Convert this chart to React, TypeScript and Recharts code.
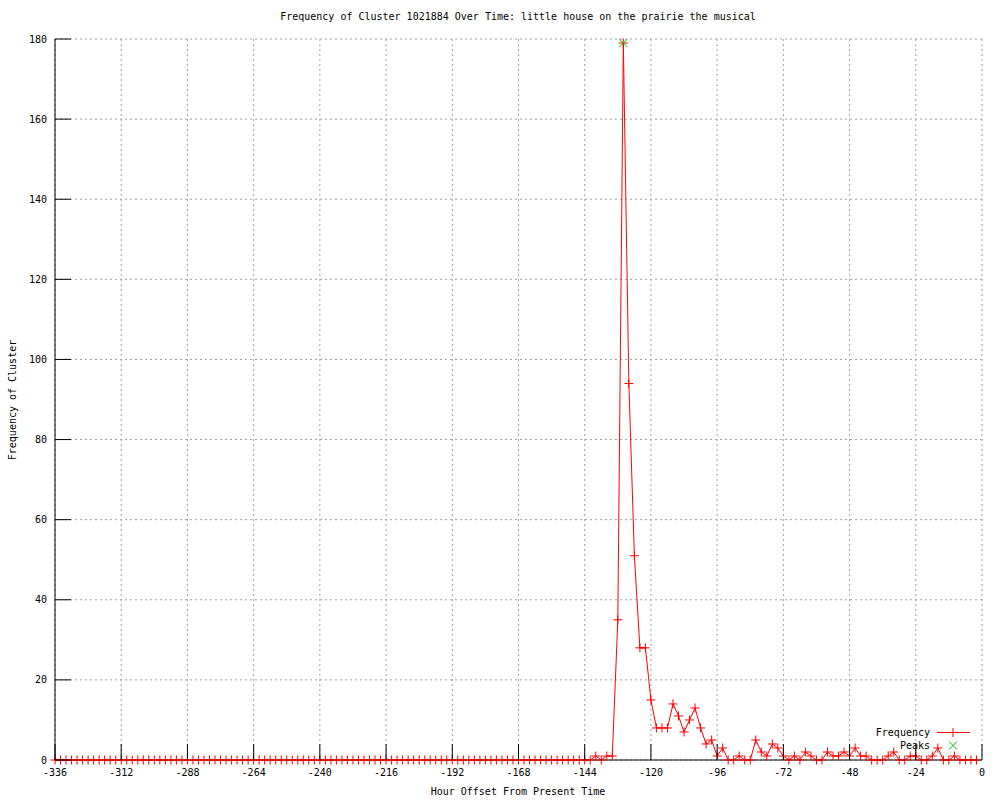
// Frequency of a cluster over time, gnuplot look-alike drawn with Recharts

import React from 'react';
import { ComposedChart, Line, XAxis, YAxis, CartesianGrid, Legend } from 'recharts';

// hour offsets of each sample (2 h steps)
const hours = [
    -336, -334, -332, -330, -328, -326, -324, -322, -320, -318, -316, -314,
    -312, -310, -308, -306, -304, -302, -300, -298, -296, -294, -292, -290,
    -288, -286, -284, -282, -280, -278, -276, -274, -272, -270, -268, -266,
    -264, -262, -260, -258, -256, -254, -252, -250, -248, -246, -244, -242,
    -240, -238, -236, -234, -232, -230, -228, -226, -224, -222, -220, -218,
    -216, -214, -212, -210, -208, -206, -204, -202, -200, -198, -196, -194,
    -192, -190, -188, -186, -184, -182, -180, -178, -176, -174, -172, -170,
    -168, -166, -164, -162, -160, -158, -156, -154, -152, -150, -148, -146,
    -144, -142, -140, -138, -136, -134, -132, -130, -128, -126, -124, -122,
    -120, -118, -116, -114, -112, -110, -108, -106, -104, -102, -100, -98,
    -96, -94, -92, -90, -88, -86, -84, -82, -80, -78, -76, -74,
    -72, -70, -68, -66, -64, -62, -60, -58, -56, -54, -52, -50,
    -48, -46, -44, -42, -40, -38, -36, -34, -32, -30, -28, -26,
    -24, -22, -20, -18, -16, -14, -12, -10, -8, -6, -4, -2
];

const frequency = [
    0, 0, 0, 0, 0, 0, 0, 0, 0, 0, 0, 0,
    0, 0, 0, 0, 0, 0, 0, 0, 0, 0, 0, 0,
    0, 0, 0, 0, 0, 0, 0, 0, 0, 0, 0, 0,
    0, 0, 0, 0, 0, 0, 0, 0, 0, 0, 0, 0,
    0, 0, 0, 0, 0, 0, 0, 0, 0, 0, 0, 0,
    0, 0, 0, 0, 0, 0, 0, 0, 0, 0, 0, 0,
    0, 0, 0, 0, 0, 0, 0, 0, 0, 0, 0, 0,
    0, 0, 0, 0, 0, 0, 0, 0, 0, 0, 0, 0,
    0, 0, 1, 0, 1, 1, 35, 179, 94, 51, 28, 28,
    15, 8, 8, 8, 14, 11, 7, 10, 13, 8, 4, 5,
    1, 3, 0, 0, 1, 0, 0, 5, 2, 1, 4, 3,
    1, 0, 1, 0, 2, 1, 0, 0, 2, 1, 1, 2,
    1, 3, 1, 1, 0, 0, 0, 1, 2, 0, 0, 1,
    1, 0, 0, 1, 3, 0, 0, 1, 0, 0, 0, 0
];

const peakHours = [-130];
const peakValues = [179];

const xTicks = [-336, -312, -288, -264, -240, -216, -192, -168, -144, -120, -96, -72, -48, -24, 0];
const yTicks = [0, 20, 40, 60, 80, 100, 120, 140, 160, 180];

const data = hours.map((h, i) => {
    const p = peakHours.indexOf(h);
    return { hour: h, frequency: frequency[i], peak: p >= 0 ? peakValues[p] : null };
});

const FONT = '"DejaVu Sans Mono", "Liberation Mono", monospace';
const TICK_LEN = 16;

const BottomTick = ({ x, y, payload }: any) => (
    <g>
        <line x1={x} x2={x} y1={y} y2={y - TICK_LEN} stroke="#000" />
        <text x={x} y={y + 16} textAnchor="middle" fontSize={10} fontFamily={FONT} fill="#000">
            {payload.value}
        </text>
    </g>
);

const TopTick = ({ x, y }: any) => (
    <line x1={x} x2={x} y1={y} y2={y + TICK_LEN} stroke="#000" />
);

const LeftTick = ({ x, y, payload }: any) => (
    <g>
        <line x1={x} x2={x + TICK_LEN} y1={y} y2={y} stroke="#000" />
        <text x={x - 8} y={y + 3.5} textAnchor="end" fontSize={10} fontFamily={FONT} fill="#000">
            {payload.value}
        </text>
    </g>
);

const RightTick = ({ x, y }: any) => (
    <line x1={x} x2={x - TICK_LEN} y1={y} y2={y} stroke="#000" />
);

const PlusDot = ({ cx, cy, index }: any) => (
    <path key={`f${index}`} d={`M${cx - 4.5},${cy}h9M${cx},${cy - 4.5}v9`} stroke="#ff0000" strokeWidth={1} fill="none" />
);

const CrossDot = ({ cx, cy, index, value }: any) => {
    if (value == null || cy == null) return <g key={`p${index}`} />;
    return (
        <path key={`p${index}`} d={`M${cx - 4},${cy - 4}l8,8M${cx - 4},${cy + 4}l8,-8`} stroke="#00c000" strokeWidth={1} fill="none" />
    );
};

const renderLegend = ({ payload }: any) => (
    <div style={{ fontFamily: FONT, fontSize: 10, color: '#000' }}>
        {(payload || []).map((entry: any) => (
            <div key={entry.value} style={{ display: 'flex', alignItems: 'center', height: 13 }}>
                <span style={{ width: 80, textAlign: 'right', lineHeight: '13px' }}>{entry.value}</span>
                <svg width={42} height={13}>
                    {entry.dataKey === 'peak' ? (
                        <path d="M19,2.5l8,8M19,10.5l8,-8" stroke="#00c000" fill="none" />
                    ) : (
                        <g>
                            <line x1={7} x2={40} y1={6.5} y2={6.5} stroke="#ff0000" />
                            <path d="M18.5,6.5h9M23,2v9" stroke="#ff0000" fill="none" />
                        </g>
                    )}
                </svg>
            </div>
        ))}
    </div>
);

const App: React.FC = () => {
    return (
        <div style={{ position: 'absolute', left: 0, top: 0, width: 1000, height: 800, background: '#fff' }}>
            <div style={{ position: 'absolute', left: 0, top: 11, width: 1036, textAlign: 'center', fontFamily: FONT, fontSize: 10, color: '#000' }}>
                Frequency of Cluster 1021884 Over Time: little house on the prairie the musical
            </div>
            <div style={{ position: 'absolute', left: 0, top: 786, width: 1036, textAlign: 'center', fontFamily: FONT, fontSize: 10, color: '#000' }}>
                Hour Offset From Present Time
            </div>
            <div style={{ position: 'absolute', left: 13, top: 400, width: 0, height: 0 }}>
                <div style={{ position: 'absolute', left: -100, top: -7, width: 200, textAlign: 'center', transform: 'rotate(-90deg)', fontFamily: FONT, fontSize: 10, color: '#000', lineHeight: '14px' }}>
                    Frequency of Cluster
                </div>
            </div>
            <ComposedChart width={1000} height={800} data={data} margin={{ top: 39, right: 18, bottom: 0, left: 0 }}>
                <CartesianGrid stroke="#a0a0a0" strokeDasharray="2 3" />
                <XAxis
                    dataKey="hour"
                    type="number"
                    domain={[-336, 0]}
                    ticks={xTicks}
                    height={40}
                    tickSize={0}
                    tickMargin={0}
                    tickLine={false}
                    axisLine={{ stroke: '#000' }}
                    tick={<BottomTick />}
                    interval={0}
                />
                <XAxis
                    xAxisId="top"
                    orientation="top"
                    dataKey="hour"
                    type="number"
                    domain={[-336, 0]}
                    ticks={xTicks}
                    height={0}
                    tickSize={0}
                    tickMargin={0}
                    tickLine={false}
                    axisLine={{ stroke: '#000' }}
                    tick={<TopTick />}
                    interval={0}
                />
                <YAxis
                    type="number"
                    domain={[0, 180]}
                    ticks={yTicks}
                    width={55}
                    tickSize={0}
                    tickMargin={0}
                    tickLine={false}
                    axisLine={{ stroke: '#000' }}
                    tick={<LeftTick />}
                    interval={0}
                />
                <YAxis
                    yAxisId="right"
                    orientation="right"
                    type="number"
                    domain={[0, 180]}
                    ticks={yTicks}
                    width={0}
                    tickSize={0}
                    tickMargin={0}
                    tickLine={false}
                    axisLine={{ stroke: '#000' }}
                    tick={<RightTick />}
                    interval={0}
                />
                <Line
                    name="Frequency"
                    dataKey="frequency"
                    stroke="#ff0000"
                    strokeWidth={1}
                    dot={PlusDot}
                    activeDot={false}
                    isAnimationActive={false}
                />
                <Line
                    name="Peaks"
                    dataKey="peak"
                    stroke="none"
                    dot={CrossDot}
                    activeDot={false}
                    isAnimationActive={false}
                />
                <Legend
                    layout="vertical"
                    align="center"
                    verticalAlign="middle"
                    content={renderLegend}
                    wrapperStyle={{ left: 850, top: 726, width: 130 }}
                />
            </ComposedChart>
        </div>
    );
};

export default App;
